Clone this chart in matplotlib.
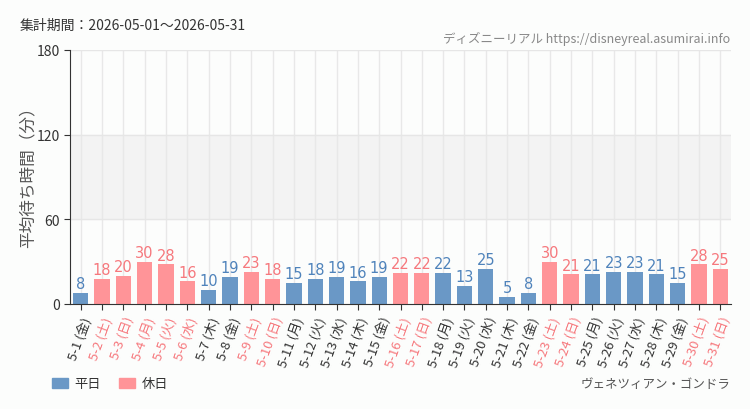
import matplotlib
matplotlib.use("Agg")
import matplotlib.pyplot as plt
from matplotlib.patches import Patch
from matplotlib.font_manager import FontProperties

dates = ["5-1", "5-2", "5-3", "5-4", "5-5", "5-6", "5-7", "5-8", "5-9", "5-10",
         "5-11", "5-12", "5-13", "5-14", "5-15", "5-16", "5-17", "5-18", "5-19", "5-20",
         "5-21", "5-22", "5-23", "5-24", "5-25", "5-26", "5-27", "5-28", "5-29", "5-30", "5-31"]
weekdays = ["金", "土", "日", "月", "火", "水", "木", "金", "土", "日",
            "月", "火", "水", "木", "金", "土", "日", "月", "火", "水",
            "木", "金", "土", "日", "月", "火", "水", "木", "金", "土", "日"]
values = [8, 18, 20, 30, 28, 16, 10, 19, 23, 18,
          15, 18, 19, 16, 19, 22, 22, 22, 13, 25,
          5, 8, 30, 21, 21, 23, 23, 21, 15, 28, 25]
holiday = [0, 1, 1, 1, 1, 1, 0, 0, 1, 1,
           0, 0, 0, 0, 0, 1, 1, 0, 0, 0,
           0, 0, 1, 1, 0, 0, 0, 0, 0, 1, 1]
yticks = [0, 60, 120, 180]

BLUE = "#6a98c6"
PINK = "#ff9498"
BLUE_T = "#4f83bb"
PINK_T = "#f6787d"
JP = ["Noto Sans CJK JP", "DejaVu Sans"]
plt.rcParams["font.family"] = JP

VAL_FP = FontProperties(family="DejaVu Sans", size=10.5)

fig = plt.figure(figsize=(7.5, 4.1), dpi=100, facecolor="#fcfdfc")
ax = fig.add_axes([70 / 750, 1 - 305 / 410, 661 / 750, 254 / 410])
ax.set_facecolor("#fcfdfc")

n = len(values)
x = list(range(n))
ax.set_xlim(-0.5, n - 0.5)
ax.set_ylim(0, 180)
ax.axhspan(60, 120, color="#f3f3f3", zorder=0)
for xi in x:
    ax.axvline(xi, color="#e8e8e8", lw=1, zorder=0.5)
for yv in yticks[1:]:
    ax.axhline(yv, color="#e6e6e6", lw=1, zorder=0.5)

colors = [PINK if h else BLUE for h in holiday]
ax.bar(x, values, width=0.72, color=colors, zorder=2)
for xi, v, h in zip(x, values, holiday):
    ax.text(xi, v + 1.2, str(v), ha="center", va="bottom", fontproperties=VAL_FP,
            color=PINK_T if h else BLUE_T, zorder=3)

ax.set_yticks(yticks)
ax.set_yticklabels([str(t) for t in yticks], fontsize=10, color="#333333")
ax.set_xticks(x)
labels = [f"{d} ({w})" for d, w in zip(dates, weekdays)]
ax.set_xticklabels(labels, rotation=70, ha="right", rotation_mode="anchor", fontsize=9.5)
for lab, h in zip(ax.get_xticklabels(), holiday):
    lab.set_color(PINK_T if h else "#333333")
ax.tick_params(axis="both", length=4, color="#333333")
for s in ["top", "right"]:
    ax.spines[s].set_visible(False)
ax.spines["left"].set_color("#333333")
ax.spines["bottom"].set_color("#333333")

ax.set_ylabel("平均待ち時間（分）", fontsize=12, color="#555555")
ax.yaxis.set_label_coords(-33 / 661, 0.52)

fig.text(20 / 750, 1 - 26 / 410, "集計期間：2026-05-01～2026-05-31", fontsize=10,
         color="#333333", va="center", ha="left")
fig.text(730 / 750, 1 - 39 / 410, "ディズニーリアル https://disneyreal.asumirai.info",
         fontsize=9, color="#888888", va="center", ha="right", fontstretch="condensed")
fig.text(730 / 750, 1 - 385 / 410, "ヴェネツィアン・ゴンドラ", fontsize=9, color="#555555",
         va="center", ha="right")

handles = [Patch(color=BLUE, label="平日"), Patch(color=PINK, label="休日")]
fig.legend(handles=handles, loc="center left", bbox_to_anchor=(40 / 750, 1 - 385 / 410),
           ncol=2, frameon=False, fontsize=9.5, handlelength=1.2, handleheight=0.8,
           columnspacing=1.4, handletextpad=0.5, labelcolor="#333333")

fig.savefig("out.png", dpi=100, facecolor=fig.get_facecolor())
